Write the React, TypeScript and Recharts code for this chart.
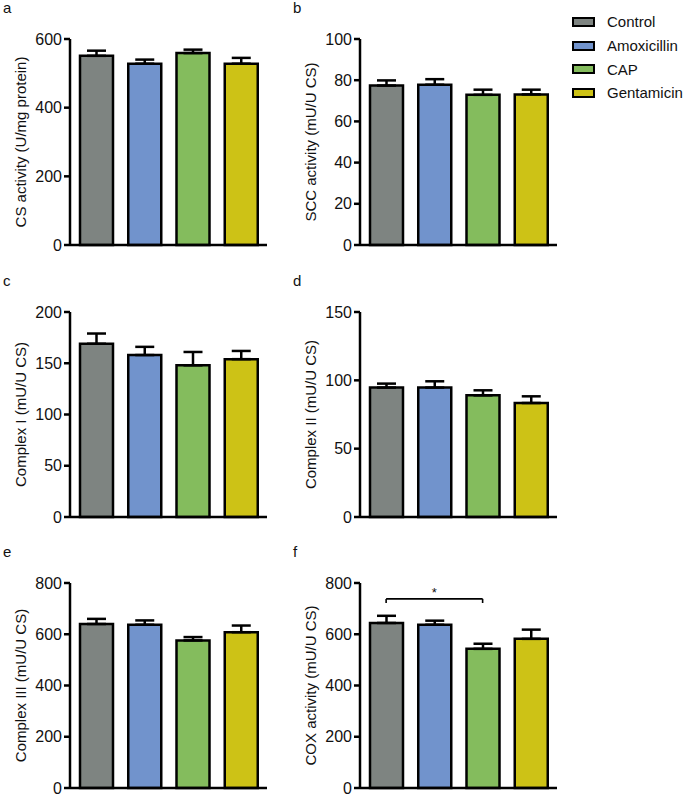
import React from "react";
import { BarChart, Bar, XAxis, YAxis, ErrorBar, Cell, ReferenceLine, Label } from "recharts";

const groups = ["Control", "Amoxicillin", "CAP", "Gentamicin"];
const groupColors = ["#7e8481", "#7193cc", "#84bc5d", "#cdc216"];

const csActivity = [551, 528, 559, 528];
const csSem = [15, 12, 10, 17];
const sccActivity = [77.4, 77.8, 72.9, 73.1];
const sccSem = [2.5, 2.7, 2.5, 2.3];
const complexI = [169, 158, 148, 154];
const complexISem = [10, 8, 13, 8];
const complexII = [94.7, 94.7, 89, 83.4];
const complexIISem = [2.9, 4.6, 3.7, 4.9];
const complexIII = [640, 637, 576, 608];
const complexIIISem = [20, 17, 13, 26];
const coxActivity = [644, 637, 543, 582];
const coxSem = [28, 16, 20, 36];

const ticks600 = [0, 200, 400, 600];
const ticks100 = [0, 20, 40, 60, 80, 100];
const ticks200 = [0, 50, 100, 150, 200];
const ticks150 = [0, 50, 100, 150];
const ticks800 = [0, 200, 400, 600, 800];

// significance bracket in panel f: Control vs CAP
const coxBracket = { from: "Control", to: "CAP", y: 738, tip: 722, mark: "*" };

const FONT = '"Liberation Sans", Arial, sans-serif';

interface PanelProps {
  letter: string;
  yLabel: string;
  values: number[];
  sem: number[];
  ticks: number[];
  left: number;
  plotTop: number;
  plotBottom: number;
  bracket?: typeof coxBracket;
}

function Panel({ letter, yLabel, values, sem, ticks, left, plotTop, plotBottom, bracket }: PanelProps) {
  const data = groups.map((g, i) => ({ group: g, value: values[i], err: [0, sem[i]] }));
  const topPad = 20;
  const axisH = 6;
  const bottomPad = 8;
  const height = plotBottom - plotTop + topPad + axisH + bottomPad;
  return (
    <>
      <div style={{ position: "absolute", left: left + 3, top: plotTop - 39, fontSize: 15, lineHeight: "15px" }}>
        {letter}
      </div>
      <div style={{ position: "absolute", left, top: plotTop - topPad }}>
        <BarChart width={277} height={height} data={data} margin={{ top: topPad, right: 10, left: 0, bottom: bottomPad }}>
          <XAxis
            dataKey="group"
            tick={false}
            tickLine={false}
            height={axisH}
            padding={{ left: 2, right: 2 }}
            axisLine={{ stroke: "#000", strokeWidth: 2.5 }}
          />
          <YAxis
            width={70}
            domain={[ticks[0], ticks[ticks.length - 1]]}
            ticks={ticks}
            interval={0}
            tickSize={6}
            tickMargin={2}
            axisLine={{ stroke: "#000", strokeWidth: 2.5 }}
            tickLine={{ stroke: "#000", strokeWidth: 2.5 }}
            tick={{ fill: "#111", fontSize: 16, fontFamily: FONT }}
          >
            <Label
              value={yLabel}
              angle={-90}
              position="insideLeft"
              offset={21}
              style={{ textAnchor: "middle", fill: "#111", fontSize: 15, fontFamily: FONT }}
            />
          </YAxis>
          <Bar dataKey="value" barSize={33} stroke="#000" strokeWidth={2.5} isAnimationActive={false}>
            {data.map((d, i) => (
              <Cell key={d.group} fill={groupColors[i]} />
            ))}
            <ErrorBar dataKey="err" direction="y" width={9.5} stroke="#000" strokeWidth={2.5} />
          </Bar>
          {bracket && (
            <ReferenceLine
              segment={[{ x: bracket.from, y: bracket.y }, { x: bracket.to, y: bracket.y }]}
              stroke="#000"
              strokeWidth={1.6}
              label={{ value: bracket.mark, position: "top", offset: 2, fontSize: 13, fill: "#111", fontFamily: FONT }}
            />
          )}
          {bracket && (
            <ReferenceLine
              segment={[{ x: bracket.from, y: bracket.y }, { x: bracket.from, y: bracket.tip }]}
              stroke="#000"
              strokeWidth={1.6}
            />
          )}
          {bracket && (
            <ReferenceLine
              segment={[{ x: bracket.to, y: bracket.y }, { x: bracket.to, y: bracket.tip }]}
              stroke="#000"
              strokeWidth={1.6}
            />
          )}
        </BarChart>
      </div>
    </>
  );
}

function GroupLegend() {
  return (
    <div style={{ position: "absolute", left: 572, top: 10 }}>
      {groups.map((g, i) => (
        <div key={g} style={{ display: "flex", alignItems: "center", height: 23.7 }}>
          <span
            style={{
              display: "inline-block",
              width: 19,
              height: 6,
              background: groupColors[i],
              border: "2.5px solid #000",
              marginRight: 12,
            }}
          />
          <span style={{ fontSize: 15 }}>{g}</span>
        </div>
      ))}
    </div>
  );
}

export default function App() {
  return (
    <div
      style={{
        position: "absolute",
        left: 0,
        top: 0,
        width: 685,
        height: 797,
        overflow: "hidden",
        background: "#fff",
        fontFamily: FONT,
        color: "#111",
      }}
    >
      <Panel letter="a" yLabel="CS activity (U/mg protein)" values={csActivity} sem={csSem} ticks={ticks600} left={0} plotTop={39} plotBottom={245} />
      <Panel letter="b" yLabel="SCC activity (mU/U CS)" values={sccActivity} sem={sccSem} ticks={ticks100} left={290} plotTop={39} plotBottom={245} />
      <Panel letter="c" yLabel="Complex I (mU/U CS)" values={complexI} sem={complexISem} ticks={ticks200} left={0} plotTop={312} plotBottom={517} />
      <Panel letter="d" yLabel="Complex II (mU/U CS)" values={complexII} sem={complexIISem} ticks={ticks150} left={290} plotTop={312} plotBottom={517} />
      <Panel letter="e" yLabel="Complex III (mU/U CS)" values={complexIII} sem={complexIIISem} ticks={ticks800} left={0} plotTop={583} plotBottom={788} />
      <Panel letter="f" yLabel="COX activity (mU/U CS)" values={coxActivity} sem={coxSem} ticks={ticks800} left={290} plotTop={583} plotBottom={788} bracket={coxBracket} />
      <GroupLegend />
    </div>
  );
}
